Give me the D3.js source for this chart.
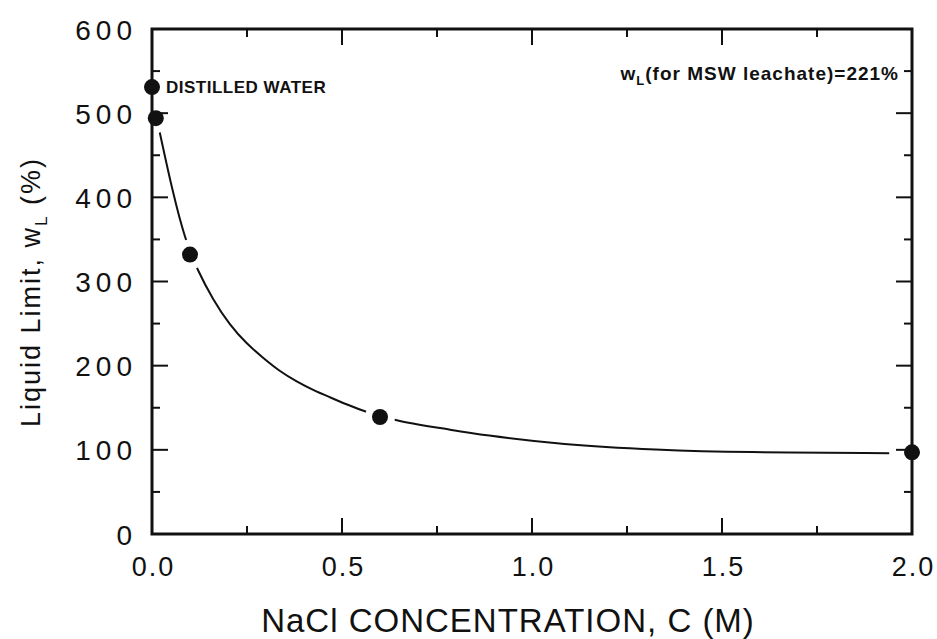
<!DOCTYPE html>
<html>
<head>
<meta charset="utf-8">
<script src="https://cdn.jsdelivr.net/npm/d3@7"></script>
<style>
  body { margin: 0; background: #fff; }
  text { font-family: "Liberation Sans", Arial, sans-serif; fill: #111; }
</style>
</head>
<body>
<svg width="937" height="639"></svg>
<script>
// measured points: NaCl concentration (M) vs liquid limit (%)
var pointC = [0.0, 0.01, 0.1, 0.6, 2.0];
var pointWL = [531, 494, 332, 139, 97];

// fitted curve
var curveC = [0.02, 0.055, 0.087, 0.119, 0.161, 0.205, 0.249, 0.293, 0.337, 0.381, 0.424, 0.468, 0.512, 0.565, 0.645, 0.785, 0.865, 1.08, 1.33, 1.55, 1.94];
var curveWL = [478, 405, 350, 314, 278, 248, 226, 209, 193, 181, 171, 162.5, 154, 144.5, 134, 124, 118, 106, 100, 97, 96];

var xMajor = [0.0, 0.5, 1.0, 1.5, 2.0];
var xMinor = [0.25, 0.75, 1.25, 1.75];
var yMajor = [0, 100, 200, 300, 400, 500, 600];
var yMinor = [50, 150, 250, 350, 450, 550];

var svg = d3.select("svg");
var margin = { left: 152, right: 25, top: 29, bottom: 105 };
var width = 937 - margin.left - margin.right,
    height = 639 - margin.top - margin.bottom;

var x = d3.scaleLinear().domain([0, 2]).range([0, width]);
var y = d3.scaleLinear().domain([0, 600]).range([height, 0]);

var g = svg.append("g")
    .attr("transform", "translate(" + margin.left + "," + margin.top + ")");

// tick labels from the axes
var xb = g.append("g").attr("transform", "translate(0," + height + ")")
    .call(d3.axisBottom(x).tickValues(xMajor).tickSize(0).tickPadding(22).tickFormat(d3.format(".1f")));
xb.selectAll("text").attr("font-size", 27).attr("letter-spacing", 2).attr("dx", 1).attr("dy", "0.75em");

var yl = g.append("g")
    .call(d3.axisLeft(y).tickValues(yMajor).tickSize(0).tickPadding(15).tickFormat(d3.format("d")));
yl.selectAll("text").attr("font-size", 28).attr("letter-spacing", 5).attr("dy", "0.36em");
g.selectAll(".domain").remove();

// inward ticks on all four sides
var tickG = g.append("g").attr("stroke", "#111").attr("stroke-width", 2);
function xTicks(vals, len) {
    [height, 0].forEach(function (base) {
        var dir = base === 0 ? 1 : -1;
        tickG.selectAll(null).data(vals).enter().append("line")
            .attr("x1", function (d) { return x(d); }).attr("x2", function (d) { return x(d); })
            .attr("y1", base).attr("y2", base + dir * len);
    });
}
function yTicks(vals, len) {
    [0, width].forEach(function (base) {
        var dir = base === 0 ? 1 : -1;
        tickG.selectAll(null).data(vals).enter().append("line")
            .attr("y1", function (d) { return y(d); }).attr("y2", function (d) { return y(d); })
            .attr("x1", base).attr("x2", base + dir * len);
    });
}
xTicks(xMajor, 16);
xTicks(xMinor, 8);
yTicks(yMajor, 16);
yTicks(yMinor, 8);

g.append("rect")
    .attr("width", width).attr("height", height)
    .attr("fill", "none").attr("stroke", "#111").attr("stroke-width", 3);

// gaps in the curve around the markers
var mask = svg.append("defs").append("mask").attr("id", "gaps")
    .attr("maskUnits", "userSpaceOnUse")
    .attr("x", -200).attr("y", -200).attr("width", 1300).attr("height", 900);
mask.append("rect").attr("x", -200).attr("y", -200).attr("width", 1300).attr("height", 900).attr("fill", "#fff");
mask.selectAll("circle").data(pointC).enter().append("circle")
    .attr("cx", function (d) { return x(d); })
    .attr("cy", function (d, i) { return y(pointWL[i]); })
    .attr("r", 15).attr("fill", "#000");

var line = d3.line()
    .x(function (d) { return x(d[0]); })
    .y(function (d) { return y(d[1]); })
    .curve(d3.curveBasis);

g.append("path")
    .datum(d3.zip(curveC, curveWL))
    .attr("d", line)
    .attr("fill", "none")
    .attr("stroke", "#111")
    .attr("stroke-width", 2)
    .attr("mask", "url(#gaps)");

g.selectAll(".pt").data(pointC).enter().append("circle")
    .attr("class", "pt")
    .attr("cx", function (d) { return x(d); })
    .attr("cy", function (d, i) { return y(pointWL[i]); })
    .attr("r", 8)
    .attr("fill", "#111");

// annotations
g.append("text")
    .attr("x", 14).attr("y", y(531) + 6)
    .attr("font-size", 17).attr("font-weight", "bold").attr("letter-spacing", 0.5)
    .text("DISTILLED WATER");

var ann = g.append("text")
    .attr("x", width - 13).attr("y", 51)
    .attr("text-anchor", "end")
    .attr("font-size", 19).attr("font-weight", "bold").attr("letter-spacing", 1);
ann.append("tspan").text("w");
ann.append("tspan").attr("font-size", 13).attr("dy", 5).text("L");
ann.append("tspan").attr("dy", -5).text("(for MSW leachate)=221%");

// axis titles
svg.append("text")
    .attr("x", 508).attr("y", 632)
    .attr("text-anchor", "middle")
    .attr("font-size", 33).attr("letter-spacing", 1)
    .text("NaCl CONCENTRATION, C (M)");

var yt = svg.append("text")
    .attr("transform", "translate(40,292) rotate(-90)")
    .attr("text-anchor", "middle")
    .attr("font-size", 27).attr("letter-spacing", 2);
yt.append("tspan").text("Liquid Limit, w");
yt.append("tspan").attr("font-size", 17).attr("dy", 7).text("L");
yt.append("tspan").attr("dy", -7).text(" (%)");
</script>
</body>
</html>
